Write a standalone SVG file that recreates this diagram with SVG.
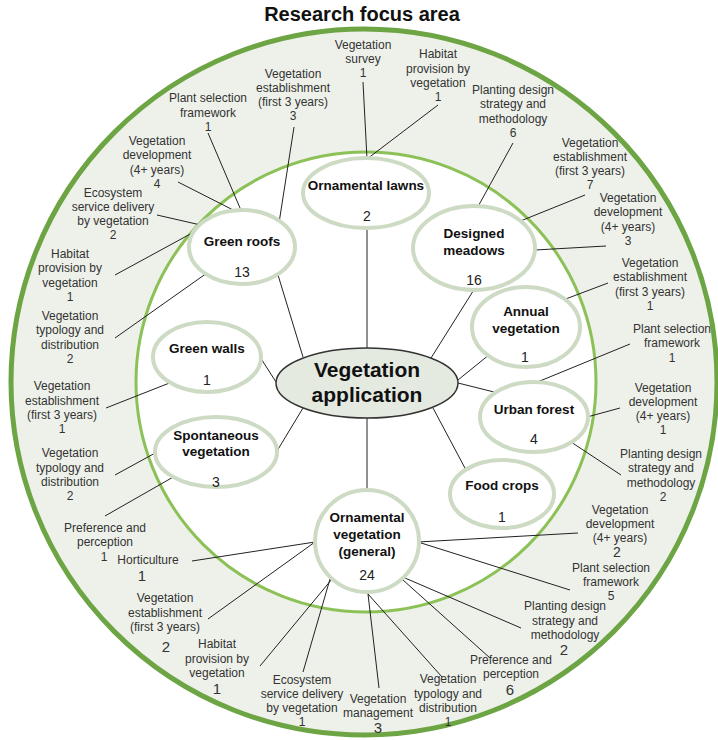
<svg xmlns="http://www.w3.org/2000/svg" width="718" height="740" viewBox="0 0 718 740">
<style>
.lbl{font-family:"Liberation Sans",Arial,sans-serif;font-size:12px;fill:#333;text-anchor:middle}
.big{font-size:15px}
.nt{font-family:"Liberation Sans",Arial,sans-serif;font-size:13.5px;font-weight:bold;fill:#111;text-anchor:middle}
.nn{font-family:"Liberation Sans",Arial,sans-serif;font-size:14px;fill:#222;text-anchor:middle}
.node{fill:#fff;stroke:#cddac4;stroke-width:4}
.con line{stroke:#222;stroke-width:1}
</style>
<rect width="718" height="740" fill="#fff"/>
<text x="362" y="21" style="font-family:'Liberation Sans',Arial,sans-serif;font-size:20px;font-weight:bold;fill:#111;text-anchor:middle">Research focus area</text>
<g id="rings">
<circle cx="364" cy="382" r="353" fill="#eef1ea" stroke="#6ea544" stroke-width="5"/>
<circle cx="366" cy="382" r="230" fill="#fff" stroke="#8cc158" stroke-width="3"/>
</g>
<g class="con" id="connectors">
<line x1="367" y1="228" x2="367" y2="348"/>
<line x1="367" y1="417" x2="367" y2="490"/>
<line x1="278" y1="275" x2="303" y2="357"/>
<line x1="260" y1="357" x2="276" y2="382"/>
<line x1="277" y1="451" x2="303" y2="408"/>
<line x1="475" y1="288" x2="431" y2="358"/>
<line x1="490" y1="354" x2="458" y2="380"/>
<line x1="458" y1="383" x2="498" y2="393"/>
<line x1="433" y1="408" x2="466" y2="470"/>
<line x1="363" y1="82" x2="367" y2="159"/>
<line x1="438" y1="105" x2="367" y2="159"/>
<line x1="294" y1="127" x2="279" y2="223"/>
<line x1="208" y1="133" x2="243" y2="215"/>
<line x1="178" y1="182" x2="243" y2="215"/>
<line x1="157" y1="215" x2="205" y2="226"/>
<line x1="115" y1="275" x2="205" y2="226"/>
<line x1="115" y1="338" x2="207" y2="273"/>
<line x1="106" y1="408" x2="172" y2="382"/>
<line x1="115" y1="475" x2="157" y2="452"/>
<line x1="105" y1="516" x2="175" y2="476"/>
<line x1="192" y1="561" x2="315" y2="542"/>
<line x1="208" y1="619" x2="315" y2="542"/>
<line x1="260" y1="666" x2="332" y2="579"/>
<line x1="303" y1="672" x2="330" y2="579"/>
<line x1="368" y1="594" x2="379" y2="688"/>
<line x1="368" y1="594" x2="442" y2="677"/>
<line x1="403" y1="580" x2="490" y2="658"/>
<line x1="405" y1="578" x2="521" y2="628"/>
<line x1="418" y1="542" x2="570" y2="590"/>
<line x1="418" y1="542" x2="578" y2="533"/>
<line x1="513" y1="143" x2="475" y2="212"/>
<line x1="585" y1="195" x2="518" y2="222"/>
<line x1="606" y1="246" x2="535" y2="250"/>
<line x1="608" y1="283" x2="563" y2="300"/>
<line x1="630" y1="344" x2="535" y2="383"/>
<line x1="620" y1="408" x2="587" y2="417"/>
<line x1="621" y1="475" x2="571" y2="442"/>
</g>
<g id="center">
<ellipse cx="367" cy="383" rx="91" ry="35" fill="#e5eae1" stroke="#333" stroke-width="1.5"/>
<text class="nt" style="font-size:21px" x="367" y="377">Vegetation</text>
<text class="nt" style="font-size:21px" x="367" y="402">application</text>
</g>
<g id="ornamental-lawns"><ellipse class="node" cx="366" cy="193" rx="63" ry="35"/>
<text class="nt" x="366" y="190">Ornamental lawns</text><text class="nn" x="367" y="221">2</text></g>
<g id="green-roofs"><ellipse class="node" cx="242" cy="247" rx="53" ry="37"/>
<text class="nt" x="242" y="246">Green roofs</text><text class="nn" x="242" y="277">13</text></g>
<g id="green-walls"><ellipse class="node" cx="207" cy="357" rx="54" ry="35"/>
<text class="nt" x="207" y="353">Green walls</text><text class="nn" x="207" y="385">1</text></g>
<g id="spontaneous-vegetation"><ellipse class="node" cx="216" cy="452" rx="61" ry="35"/>
<text class="nt" x="216" y="440">Spontaneous</text><text class="nt" x="216" y="456">vegetation</text><text class="nn" x="216" y="487">3</text></g>
<g id="designed-meadows"><ellipse class="node" cx="474" cy="248" rx="61" ry="42"/>
<text class="nt" x="474" y="238">Designed</text><text class="nt" x="474" y="255">meadows</text><text class="nn" x="474" y="285">16</text></g>
<g id="annual-vegetation"><ellipse class="node" cx="526" cy="327" rx="54" ry="40"/>
<text class="nt" x="526" y="316">Annual</text><text class="nt" x="526" y="333">vegetation</text><text class="nn" x="525" y="362">1</text></g>
<g id="urban-forest"><ellipse class="node" cx="534" cy="417" rx="54" ry="35"/>
<text class="nt" x="534" y="414">Urban forest</text><text class="nn" x="534" y="444">4</text></g>
<g id="food-crops"><ellipse class="node" cx="502" cy="494" rx="52" ry="34"/>
<text class="nt" x="502" y="490">Food crops</text><text class="nn" x="502" y="522">1</text></g>
<g id="ornamental-vegetation"><ellipse class="node" cx="367" cy="541" rx="52" ry="51"/>
<text class="nt" x="367" y="522">Ornamental</text><text class="nt" x="367" y="539">vegetation</text><text class="nt" x="367" y="556">(general)</text><text class="nn" x="367" y="580">24</text></g>

<g id="ol-survey"><text class="lbl"><tspan x="363" y="49">Vegetation</tspan><tspan x="363" y="63">survey</tspan><tspan x="363" y="77">1</tspan></text></g>
<g id="ol-habitat"><text class="lbl"><tspan x="438" y="58">Habitat</tspan><tspan x="438" y="73">provision by</tspan><tspan x="438" y="87">vegetation</tspan><tspan x="438" y="101">1</tspan></text></g>
<g id="gr-establishment"><text class="lbl"><tspan x="293" y="78">Vegetation</tspan><tspan x="293" y="92">establishment</tspan><tspan x="293" y="106">(first 3 years)</tspan><tspan x="293" y="120">3</tspan></text></g>
<g id="gr-plant"><text class="lbl"><tspan x="208" y="102">Plant selection</tspan><tspan x="208" y="117">framework</tspan><tspan x="208" y="131">1</tspan></text></g>
<g id="gr-development"><text class="lbl"><tspan x="157" y="145">Vegetation</tspan><tspan x="157" y="159">development</tspan><tspan x="157" y="174">(4+ years)</tspan><tspan x="157" y="188">4</tspan></text></g>
<g id="gr-ecosystem"><text class="lbl"><tspan x="113" y="197">Ecosystem</tspan><tspan x="113" y="211">service delivery</tspan><tspan x="113" y="225">by vegetation</tspan><tspan x="113" y="239">2</tspan></text></g>
<g id="gr-habitat"><text class="lbl"><tspan x="70" y="258">Habitat</tspan><tspan x="70" y="272">provision by</tspan><tspan x="70" y="287">vegetation</tspan><tspan x="70" y="301">1</tspan></text></g>
<g id="gr-typology"><text class="lbl"><tspan x="70" y="320">Vegetation</tspan><tspan x="70" y="334">typology and</tspan><tspan x="70" y="349">distribution</tspan><tspan x="70" y="363">2</tspan></text></g>
<g id="gw-establishment"><text class="lbl"><tspan x="62" y="390">Vegetation</tspan><tspan x="62" y="405">establishment</tspan><tspan x="62" y="419">(first 3 years)</tspan><tspan x="62" y="433">1</tspan></text></g>
<g id="sv-typology"><text class="lbl"><tspan x="70" y="457">Vegetation</tspan><tspan x="70" y="472">typology and</tspan><tspan x="70" y="486">distribution</tspan><tspan x="70" y="500">2</tspan></text></g>
<g id="sv-preference"><text class="lbl"><tspan x="105" y="532">Preference and</tspan><tspan x="105" y="546">perception</tspan><tspan x="104" y="561">1</tspan></text></g>
<g id="ov-horticulture"><text class="lbl"><tspan x="148" y="564">Horticulture</tspan><tspan class="big" x="142" y="581">1</tspan></text></g>
<g id="ov-establishment"><text class="lbl"><tspan x="165" y="602">Vegetation</tspan><tspan x="165" y="617">establishment</tspan><tspan x="165" y="631">(first 3 years)</tspan><tspan class="big" x="166" y="652">2</tspan></text></g>
<g id="ov-habitat"><text class="lbl"><tspan x="217" y="648">Habitat</tspan><tspan x="217" y="663">provision by</tspan><tspan x="217" y="677">vegetation</tspan><tspan class="big" x="217" y="694">1</tspan></text></g>
<g id="ov-ecosystem"><text class="lbl"><tspan x="302" y="684">Ecosystem</tspan><tspan x="302" y="698">service delivery</tspan><tspan x="302" y="712">by vegetation</tspan><tspan x="302" y="726">1</tspan></text></g>
<g id="ov-management"><text class="lbl"><tspan x="378" y="703">Vegetation</tspan><tspan x="378" y="717">management</tspan><tspan class="big" x="378" y="733">3</tspan></text></g>
<g id="ov-typology"><text class="lbl"><tspan x="448" y="683">Vegetation</tspan><tspan x="448" y="698">typology and</tspan><tspan x="448" y="712">distribution</tspan><tspan x="448" y="726">1</tspan></text></g>
<g id="ov-preference"><text class="lbl"><tspan x="511" y="664">Preference and</tspan><tspan x="511" y="678">perception</tspan><tspan class="big" x="510" y="695">6</tspan></text></g>
<g id="ov-planting"><text class="lbl"><tspan x="565" y="610">Planting design</tspan><tspan x="565" y="625">strategy and</tspan><tspan x="565" y="639">methodology</tspan><tspan class="big" x="564" y="655">2</tspan></text></g>
<g id="ov-plant"><text class="lbl"><tspan x="611" y="572">Plant selection</tspan><tspan x="611" y="586">framework</tspan><tspan x="611" y="600">5</tspan></text></g>
<g id="ov-development"><text class="lbl"><tspan x="620" y="514">Vegetation</tspan><tspan x="620" y="528">development</tspan><tspan x="620" y="542">(4+ years)</tspan><tspan x="617" y="557" style="font-size:14px">2</tspan></text></g>
<g id="uf-planting"><text class="lbl"><tspan x="661" y="458">Planting design</tspan><tspan x="661" y="472">strategy and</tspan><tspan x="661" y="487">methodology</tspan><tspan x="663" y="501">2</tspan></text></g>
<g id="uf-development"><text class="lbl"><tspan x="663" y="392">Vegetation</tspan><tspan x="663" y="406">development</tspan><tspan x="663" y="420">(4+ years)</tspan><tspan x="663" y="434">1</tspan></text></g>
<g id="uf-plant"><text class="lbl"><tspan x="672" y="333">Plant selection</tspan><tspan x="672" y="347">framework</tspan><tspan x="672" y="362">1</tspan></text></g>
<g id="av-establishment"><text class="lbl"><tspan x="650" y="267">Vegetation</tspan><tspan x="650" y="281">establishment</tspan><tspan x="650" y="296">(first 3 years)</tspan><tspan x="650" y="310">1</tspan></text></g>
<g id="dm-development"><text class="lbl"><tspan x="628" y="202">Vegetation</tspan><tspan x="628" y="216">development</tspan><tspan x="628" y="231">(4+ years)</tspan><tspan x="628" y="245">3</tspan></text></g>
<g id="dm-establishment"><text class="lbl"><tspan x="590" y="147">Vegetation</tspan><tspan x="590" y="161">establishment</tspan><tspan x="590" y="175">(first 3 years)</tspan><tspan x="590" y="189">7</tspan></text></g>
<g id="dm-planting"><text class="lbl"><tspan x="513" y="94">Planting design</tspan><tspan x="513" y="108">strategy and</tspan><tspan x="513" y="123">methodology</tspan><tspan x="513" y="137">6</tspan></text></g>
</svg>
